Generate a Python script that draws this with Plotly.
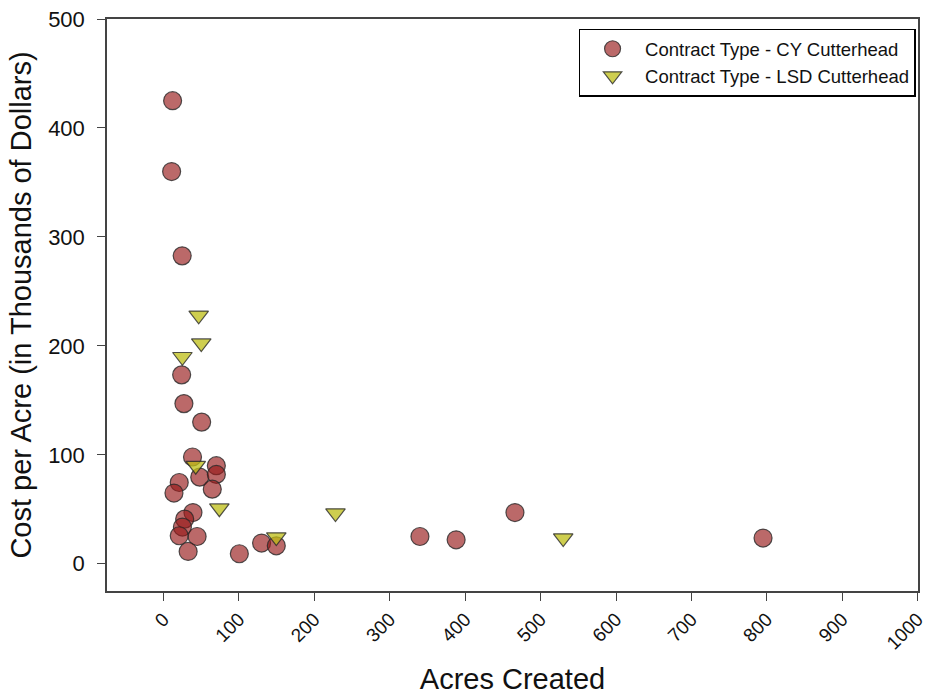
import plotly.graph_objects as go

# CY Cutterhead contracts
cy_acres = [12, 10.7, 24.7, 24, 27, 50.5, 38.4, 48, 70, 70, 64.6, 20.8, 13.8, 39, 28,
            25, 20.8, 44.5, 32.6, 100.5, 130, 149.5, 340, 388, 466, 795]
cy_cost = [425, 360, 282.6, 173.4, 147, 130, 98, 79.5, 90, 82, 68.5, 74.6, 64.9, 47, 41,
           33.7, 25.7, 25, 11.3, 9.2, 19, 16.5, 25, 22, 47, 23.6]

# LSD Cutterhead contracts
lsd_acres = [46.6, 50, 25, 42.7, 74, 149.5, 228, 530]
lsd_cost = [228, 202.5, 190, 90, 51, 24.5, 46.5, 23.6]

x_ticks = [0, 100, 200, 300, 400, 500, 600, 700, 800, 900, 1000]
y_ticks = [0, 100, 200, 300, 400, 500]

font = "Liberation Sans, Arial, sans-serif"

fig = go.Figure()
fig.add_trace(go.Scatter(
    x=cy_acres, y=cy_cost, mode="markers", name="Contract Type - CY Cutterhead",
    marker=dict(symbol="circle", size=18, color="rgba(150,25,25,0.65)",
                line=dict(color="rgba(40,40,40,0.8)", width=1.2)),
))
fig.add_trace(go.Scatter(
    x=lsd_acres, y=lsd_cost, mode="markers", name="Contract Type - LSD Cutterhead",
    marker=dict(symbol="triangle-down", size=17, color="rgba(190,190,20,0.75)",
                line=dict(color="rgba(40,40,40,0.8)", width=1.2)),
))

fig.update_layout(
    width=929, height=695,
    margin=dict(l=107, r=11, t=19, b=104),
    paper_bgcolor="white", plot_bgcolor="white",
    font=dict(family=font, color="#111"),
    showlegend=True,
    legend=dict(x=0.997, y=0.983, xanchor="right", yanchor="top",
                bordercolor="black", borderwidth=1.5, bgcolor="white",
                font=dict(size=18.5, family=font), tracegroupgap=0,
                itemwidth=55, itemsizing="trace"),
    xaxis=dict(range=[-75, 1000.5], tickvals=x_ticks, tickangle=-45,
               automargin=False, ticklabeloverflow="allow",
               showgrid=False, zeroline=False, showline=True, linecolor="#444",
               linewidth=1.5, mirror=True, ticks="outside", ticklen=8,
               tickcolor="#444", tickfont=dict(size=19, family=font),
               title=dict(text="Acres Created", font=dict(size=29, family=font),
                          standoff=18)),
    yaxis=dict(range=[-25, 500], tickvals=y_ticks,
               automargin=False, ticklabelstandoff=8,
               showgrid=False, zeroline=False, showline=True, linecolor="#444",
               linewidth=1.5, mirror=True, ticks="outside", ticklen=8,
               tickcolor="#444", tickfont=dict(size=22, family=font),
               title=dict(text="Cost per Acre (in Thousands of Dollars)",
                          font=dict(size=29, family=font), standoff=8)),
)

fig.write_html("out.html", config={"displayModeBar": False},
               post_script="document.body.style.margin='0';")
